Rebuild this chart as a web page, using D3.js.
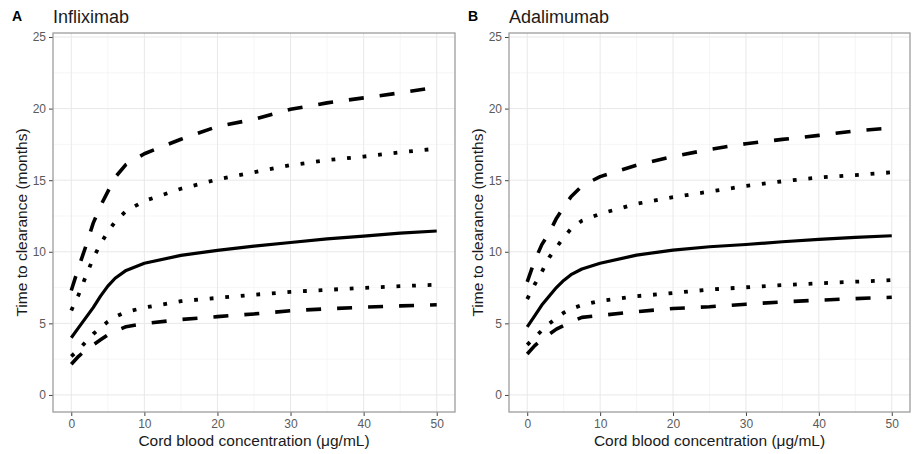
<!DOCTYPE html>
<html>
<head>
    <meta charset="utf-8">
    <title>Time to clearance vs cord blood concentration</title>
    <script src="https://d3js.org/d3.v7.min.js"></script>
    <style>
        body {
            margin: 0;
            background: #fff;
            font-family: "Liberation Sans", Arial, sans-serif;
        }
        .grid-major { stroke: #e8e8e8; stroke-width: 1; }
        .grid-minor { stroke: #f2f2f2; stroke-width: 0.7; }
        .frame { fill: none; stroke: #959595; stroke-width: 1.2; }
        .tick-label { fill: #5a5a5a; font-size: 12px; }
        .axis-title { fill: #1a1a1a; font-size: 15.5px; }
        .panel-tag { fill: #000; font-size: 14px; font-weight: bold; }
        .panel-title { fill: #1a1a1a; font-size: 18px; }
        .curve { fill: none; stroke: #000; stroke-linecap: butt; stroke-linejoin: round; }
    </style>
</head>
<body>
<svg id="chart" width="917" height="454"></svg>
<script>
    // concentration grid (µg/mL)
    const conc = [0, 1, 2, 3, 4, 5, 6, 7.5, 10, 15, 20, 25, 30, 35, 40, 45, 50];

    const xTicks = [0, 10, 20, 30, 40, 50];
    const yTicks = [0, 5, 10, 15, 20, 25];

    // Infliximab: median, inner band (dotted), outer band (dashed)
    const inflixMed     = [4.0, 4.7, 5.4, 6.1, 6.9, 7.6, 8.15, 8.7, 9.2, 9.75, 10.1, 10.4, 10.65, 10.9, 11.1, 11.3, 11.45];
    const inflixInnerHi = [5.9, 7.0, 8.3, 9.55, 10.55, 11.4, 12.1, 12.85, 13.55, 14.4, 15.05, 15.55, 16.05, 16.4, 16.65, 16.95, 17.2];
    const inflixInnerLo = [2.7, 3.15, 3.72, 4.26, 4.7, 5.12, 5.45, 5.8, 6.1, 6.55, 6.78, 7.0, 7.2, 7.34, 7.48, 7.6, 7.7];
    const inflixOuterHi = [7.3, 8.9, 10.4, 12.0, 13.2, 14.2, 15.2, 16.1, 16.85, 17.86, 18.75, 19.25, 19.95, 20.4, 20.75, 21.1, 21.5];
    const inflixOuterLo = [2.15, 2.7, 3.15, 3.5, 3.85, 4.2, 4.45, 4.77, 4.98, 5.27, 5.47, 5.66, 5.88, 6.02, 6.13, 6.22, 6.3];

    // Adalimumab
    const adaliMed     = [4.75, 5.5, 6.28, 6.9, 7.5, 8.0, 8.4, 8.8, 9.2, 9.77, 10.12, 10.35, 10.51, 10.7, 10.86, 11.0, 11.12];
    const adaliInnerHi = [6.7, 7.7, 8.6, 9.6, 10.3, 11.0, 11.6, 12.17, 12.65, 13.35, 13.82, 14.2, 14.6, 14.92, 15.19, 15.36, 15.55];
    const adaliInnerLo = [3.5, 4.0, 4.5, 4.98, 5.37, 5.74, 6.0, 6.28, 6.57, 6.9, 7.12, 7.36, 7.52, 7.67, 7.8, 7.91, 8.02];
    const adaliOuterHi = [7.9, 9.35, 10.5, 11.3, 12.33, 13.1, 13.84, 14.6, 15.25, 16.05, 16.65, 17.15, 17.55, 17.85, 18.13, 18.44, 18.65];
    const adaliOuterLo = [2.86, 3.43, 3.87, 4.24, 4.6, 4.85, 5.1, 5.42, 5.55, 5.82, 6.04, 6.16, 6.34, 6.5, 6.62, 6.73, 6.82];

    const panels = [
        {tag: "A", title: "Infliximab", left: 53, right: 455,
         series: [inflixOuterHi, inflixInnerHi, inflixMed, inflixInnerLo, inflixOuterLo]},
        {tag: "B", title: "Adalimumab", left: 509, right: 910,
         series: [adaliOuterHi, adaliInnerHi, adaliMed, adaliInnerLo, adaliOuterLo]}
    ];

    // line style per series position: dashed, dotted, solid, dotted, dashed
    const styles = [
        {dash: "15,16", width: 3.6},
        {dash: "3.8,11.8", width: 3.8},
        {dash: null, width: 3.2},
        {dash: "3.8,11.8", width: 3.8},
        {dash: "15,16", width: 3.6}
    ];

    const plotTop = 33, plotBottom = 412;
    const svg = d3.select("#chart");

    panels.forEach(p => {
        const x = d3.scaleLinear().domain([-2.5, 52.5]).range([p.left, p.right]);
        const y = d3.scaleLinear().domain([-1.19, 25.28]).range([plotBottom, plotTop]);
        const g = svg.append("g");

        // minor grid
        const xMinor = [5, 15, 25, 35, 45];
        const yMinor = [2.5, 7.5, 12.5, 17.5, 22.5];
        g.selectAll(".xminor").data(xMinor).join("line")
            .attr("class", "grid-minor")
            .attr("x1", d => x(d)).attr("x2", d => x(d))
            .attr("y1", plotTop).attr("y2", plotBottom);
        g.selectAll(".yminor").data(yMinor).join("line")
            .attr("class", "grid-minor")
            .attr("x1", p.left).attr("x2", p.right)
            .attr("y1", d => y(d)).attr("y2", d => y(d));

        // major grid
        g.selectAll(".xmajor").data(xTicks).join("line")
            .attr("class", "grid-major")
            .attr("x1", d => x(d)).attr("x2", d => x(d))
            .attr("y1", plotTop).attr("y2", plotBottom);
        g.selectAll(".ymajor").data(yTicks).join("line")
            .attr("class", "grid-major")
            .attr("x1", p.left).attr("x2", p.right)
            .attr("y1", d => y(d)).attr("y2", d => y(d));

        // curves
        const line = d3.line()
            .x((d, i) => x(conc[i]))
            .y(d => y(d));
        p.series.forEach((s, i) => {
            g.append("path")
                .attr("class", "curve")
                .attr("d", line(s))
                .attr("stroke-width", styles[i].width)
                .attr("stroke-dasharray", styles[i].dash);
        });

        // axes
        const xAxis = d3.axisBottom(x).tickValues(xTicks).tickSize(4).tickPadding(3);
        const yAxis = d3.axisLeft(y).tickValues(yTicks).tickSize(4).tickPadding(3);
        const gx = g.append("g").attr("transform", `translate(0,${plotBottom})`).call(xAxis);
        const gy = g.append("g").attr("transform", `translate(${p.left},0)`).call(yAxis);
        [gx, gy].forEach(a => {
            a.select(".domain").remove();
            a.attr("font-family", null).attr("font-size", null);
            a.selectAll(".tick line").attr("stroke", "#444");
            a.selectAll(".tick text").attr("class", "tick-label").attr("fill", null);
        });

        // panel frame
        g.append("rect").attr("class", "frame")
            .attr("x", p.left).attr("y", plotTop)
            .attr("width", p.right - p.left).attr("height", plotBottom - plotTop);

        // titles
        svg.append("text").attr("class", "panel-tag")
            .attr("x", p.left - 41).attr("y", 21).text(p.tag);
        svg.append("text").attr("class", "panel-title")
            .attr("x", p.left).attr("y", 23).text(p.title);

        svg.append("text").attr("class", "axis-title")
            .attr("x", (p.left + p.right) / 2).attr("y", 446)
            .attr("text-anchor", "middle")
            .text("Cord blood concentration (μg/mL)");
        svg.append("text").attr("class", "axis-title")
            .attr("transform", `translate(${p.left - 26},${(plotTop + plotBottom) / 2}) rotate(-90)`)
            .attr("text-anchor", "middle")
            .text("Time to clearance (months)");
    });
</script>
</body>
</html>
